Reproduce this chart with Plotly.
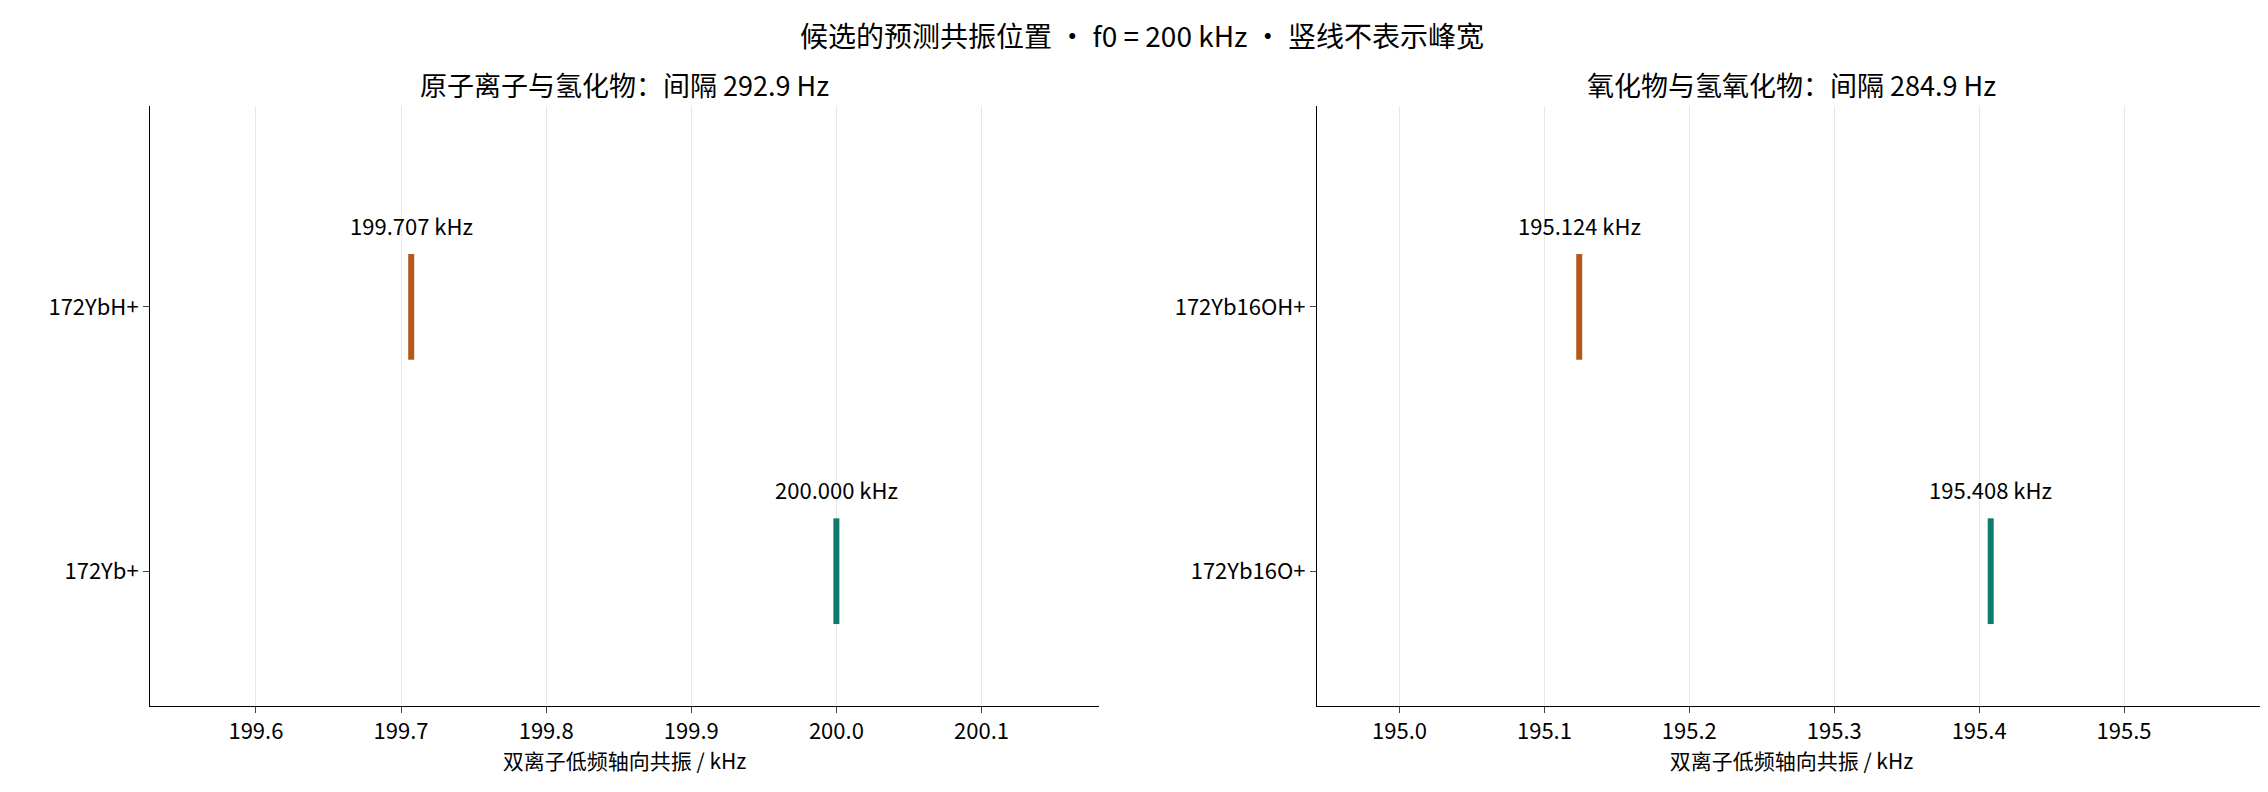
import plotly.graph_objects as go
from plotly.subplots import make_subplots

left_labels = ["172Yb+", "172YbH+"]
left_values = [200.000, 199.707]
right_labels = ["172Yb16O+", "172Yb16OH+"]
right_values = [195.408, 195.124]
colors = ["#0f7a6e", "#b5581a"]

left_ticks = [199.6, 199.7, 199.8, 199.9, 200.0, 200.1]
right_ticks = [195.0, 195.1, 195.2, 195.3, 195.4, 195.5]

font = "Noto Sans CJK SC, Microsoft YaHei, sans-serif"

fig = make_subplots(rows=1, cols=2, horizontal_spacing=0.103,
                    subplot_titles=("原子离子与氢化物：间隔 292.9 Hz", "氧化物与氢氧化物：间隔 284.9 Hz"))

for col, (labels, values) in enumerate([(left_labels, left_values), (right_labels, right_values)], start=1):
    for i, v in enumerate(values):
        fig.add_trace(go.Scatter(x=[v, v], y=[i - 0.2, i + 0.2], mode="lines",
                                 line=dict(color=colors[i], width=6), showlegend=False,
                                 hoverinfo="x"), row=1, col=col)
        fig.add_annotation(x=v, y=i + 0.31, text=f"{v:.3f} kHz", showarrow=False,
                           font=dict(size=22, color="black"), row=1, col=col)
    fig.update_yaxes(tickvals=[0, 1], ticktext=labels, range=[-0.51, 1.76], row=1, col=col)

fig.update_xaxes(range=[199.527, 200.181], tickvals=left_ticks,
                 ticktext=[f"{t:.1f}" for t in left_ticks], row=1, col=1)
fig.update_xaxes(range=[194.943, 195.598], tickvals=right_ticks,
                 ticktext=[f"{t:.1f}" for t in right_ticks], row=1, col=2)

fig.update_xaxes(title_text="双离子低频轴向共振 / kHz", title_font=dict(size=21), title_standoff=8,
                 showgrid=True, gridcolor="#e8e8e8", showline=True, linecolor="black",
                 ticks="outside", ticklen=6, tickfont=dict(size=22), zeroline=False)
fig.update_yaxes(showgrid=False, showline=True, linecolor="black", ticks="outside",
                 ticklen=6, tickfont=dict(size=22), zeroline=False)

for a in fig.layout.annotations[:2]:
    a.font = dict(size=27, color="black")

fig.update_layout(
    title=dict(text="候选的预测共振位置 · f0 = 200 kHz · 竖线不表示峰宽", x=0.5, xanchor="center",
               y=0.975, font=dict(size=28, color="black")),
    font=dict(family=font, color="black"),
    plot_bgcolor="white", paper_bgcolor="white",
    width=2268, height=792,
    margin=dict(l=142, r=10, t=98, b=94),
)

fig.write_html("out.html")
